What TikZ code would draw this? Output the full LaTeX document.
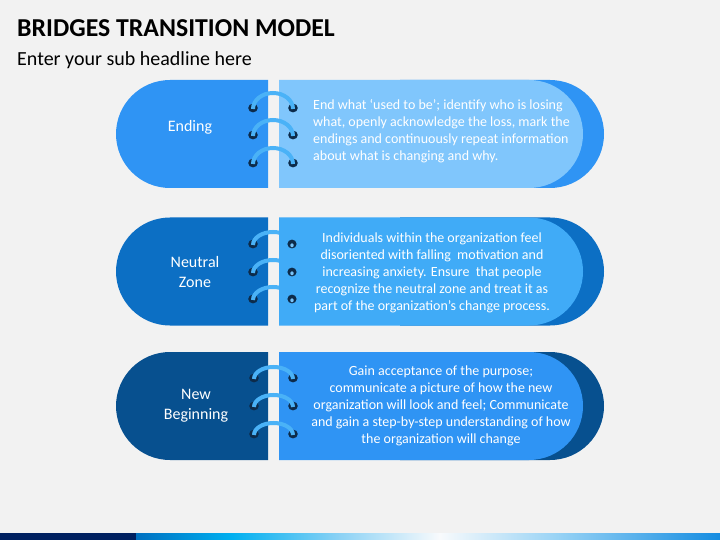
\documentclass[tikz,border=0pt]{standalone}
\usepackage{fontspec}
\setmainfont{Carlito}
\usetikzlibrary{shapes.misc}
\definecolor{bg}{HTML}{F2F2F2}
\definecolor{cA}{HTML}{2F94F4}
\definecolor{cAlight}{HTML}{80C6FC}
\definecolor{cB}{HTML}{0C6FC4}
\definecolor{cBlight}{HTML}{40ABF7}
\definecolor{cC}{HTML}{07508F}
\definecolor{ringc}{HTML}{4AB2F7}
\definecolor{dotc}{HTML}{0D2B4A}
\definecolor{navy}{HTML}{002060}
\tikzset{
  leftpill/.style={rounded rectangle, rounded rectangle right arc=none, minimum width=152pt, minimum height=108pt, inner sep=0pt},
  pilllabel/.style={text=white, align=center, inner sep=0pt, font=\fontsize{16}{19.5}\selectfont},
  rightpill/.style={rounded rectangle, rounded rectangle left arc=none, minimum width=304pt, minimum height=108pt, inner sep=0pt},
  backpill/.style={rounded rectangle, rounded rectangle left arc=none, minimum width=204pt, minimum height=108pt, inner sep=0pt},
  bodytext/.style={text=white, inner sep=0pt, font=\fontsize{14}{17}\selectfont},
  ring/.style={draw=ringc, line width=4pt},
  holedot/.style={fill=dotc},
}
\begin{document}
\begin{tikzpicture}[x=1pt,y=-1pt]
\fill[bg] (0,0) rectangle (720,540);
\useasboundingbox (0,0) rectangle (720,540);

% titles
\node[anchor=base west, inner sep=0pt, font=\fontsize{25.8}{30}\selectfont\bfseries] (title) at (17,37) {BRIDGES TRANSITION MODEL};
\node[anchor=base west, inner sep=0pt, font=\fontsize{20}{24}\selectfont] (subtitle) at (17,66) {Enter your sub headline here};

% ---------- Row 1 ----------
\node[backpill, fill=cA] (back1) at (502,134) {};
\node[leftpill, fill=cA] (left1) at (192,134) {};
\node[pilllabel] (lab1) at (190,127) {Ending};
\node[rightpill, fill=cAlight] (right1) at (431,134) {};
\node[bodytext, anchor=west, align=left] (text1) at (313,131) {End what ‘used to be’; identify who is losing\\what, openly acknowledge the loss, mark the\\endings and continuously repeat information\\about what is changing and why.};
\foreach \i/\yy in {1/108,2/135,3/163}{
  \coordinate (a\i L) at (253,\yy);
  \coordinate (a\i R) at (293,\yy);
  \fill[holedot] (a\i L) ellipse[x radius=4.8, y radius=4.4];
  \fill[holedot] (a\i R) ellipse[x radius=4.8, y radius=4.4];
  \draw[ring] ([yshift=-1pt]a\i L) arc[start angle=180, end angle=360, x radius=20, y radius=16];
}

% ---------- Row 2 ----------
\node[backpill, fill=cB] (back2) at (502,271.5) {};
\node[leftpill, fill=cB] (left2) at (192,271.5) {};
\node[pilllabel] (lab2) at (195,272) {Neutral\\Zone};
\foreach \i/\yy in {1/244,2/272,3/299}{
  \coordinate (b\i L) at (253,\yy);
  \coordinate (b\i R) at (292,\yy);
  \fill[holedot] (b\i L) ellipse[x radius=4.8, y radius=4.4];
  \draw[ring] ([yshift=-1pt]b\i L) arc[start angle=180, end angle=360, x radius=20, y radius=13];
}
\node[rightpill, fill=cBlight] (right2) at (431,271.5) {};
\foreach \i in {1,2,3}{
  \fill[holedot] (b\i R) ellipse[x radius=4.6, y radius=4.4];
  \fill[cBlight!70!white] ([yshift=-1.3pt]b\i R) ellipse[x radius=1.7, y radius=2];
}
\node[bodytext, align=center] (text2) at (432,272.5) {Individuals within the organization feel\\disoriented with falling\ \ motivation and\\increasing anxiety. Ensure\ \ that people\\recognize the neutral zone and treat it as\\part of the organization’s change process.};

% ---------- Row 3 ----------
\node[backpill, fill=cC] (back3) at (502,406) {};
\node[leftpill, fill=cC] (left3) at (192,406) {};
\node[pilllabel] (lab3) at (196,405.5) {New\\Beginning};
\node[rightpill, fill=cA] (right3) at (431,406) {};
\node[bodytext, align=center] (text3) at (441,406) {Gain acceptance of the purpose;\\communicate a picture of how the new\\organization will look and feel; Communicate\\and gain a step-by-step understanding of how\\the organization will change};
\foreach \i/\yy in {1/378,2/406,3/434}{
  \coordinate (c\i L) at (254,\yy);
  \coordinate (c\i R) at (293,\yy);
  \fill[holedot] (c\i L) ellipse[x radius=4.8, y radius=4.4];
  \fill[holedot] (c\i R) ellipse[x radius=4.8, y radius=4.4];
  \draw[ring] ([yshift=-1pt]c\i L) arc[start angle=180, end angle=360, x radius=19.5, y radius=12];
}

% ---------- bottom bar ----------
\fill[navy] (0,533) rectangle (136,540);
\shade[left color={rgb,255:red,0;green,112;blue,192}, right color={rgb,255:red,0;green,176;blue,240}] (136,533) rectangle (232,540);
\shade[left color={rgb,255:red,0;green,176;blue,240}, right color={rgb,255:red,140;green,210;blue,245}] (231.5,533) rectangle (340,540);
\shade[left color={rgb,255:red,140;green,210;blue,245}, right color={rgb,255:red,248;green,250;blue,252}] (339.5,533) rectangle (440,540);
\shade[left color={rgb,255:red,248;green,250;blue,252}, right color={rgb,255:red,150;green,210;blue,245}] (439.5,533) rectangle (560,540);
\shade[left color={rgb,255:red,150;green,210;blue,245}, right color={rgb,255:red,20;green,140;blue,225}] (559.5,533) rectangle (720,540);
\end{tikzpicture}
\end{document}
